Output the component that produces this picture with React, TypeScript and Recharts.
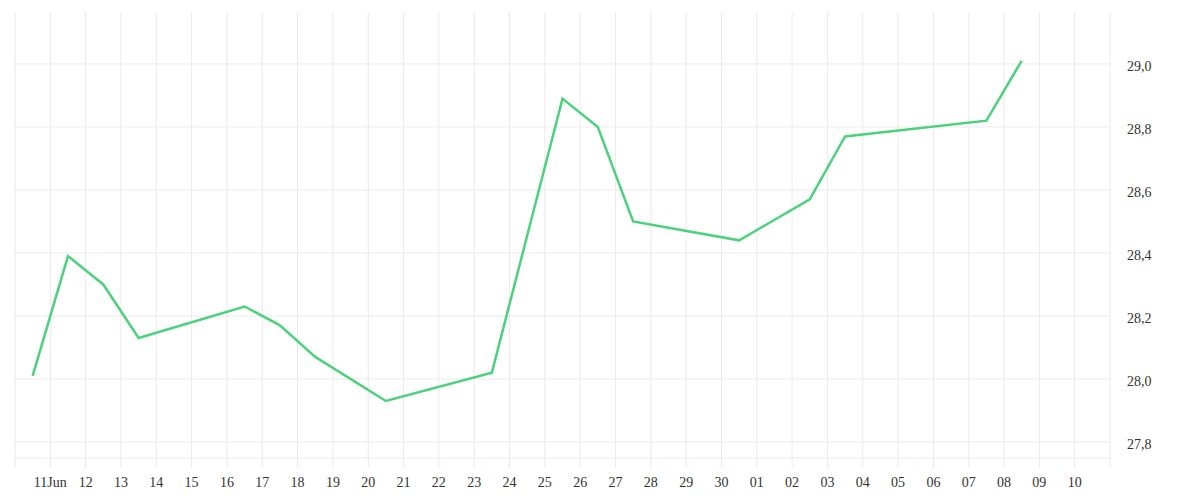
import { CartesianGrid, Line, LineChart, XAxis, YAxis } from 'recharts';

// Trading days and closing values.
const DATES = [
  '2024-06-10', '2024-06-11', '2024-06-12', '2024-06-13', '2024-06-16',
  '2024-06-17', '2024-06-18', '2024-06-20', '2024-06-23', '2024-06-25',
  '2024-06-26', '2024-06-27', '2024-06-30', '2024-07-02', '2024-07-03',
  '2024-07-07', '2024-07-08',
];
const VALUES = [
  28.01, 28.39, 28.3, 28.13, 28.23,
  28.17, 28.07, 27.93, 28.02, 28.89,
  28.8, 28.5, 28.44, 28.57, 28.77,
  28.82, 29.01,
];

// One tick per day from Jun 10 to Jul 11; first and last are left blank.
const X_LABELS = [
  '', '11Jun', '12', '13', '14', '15', '16', '17', '18', '19', '20',
  '21', '22', '23', '24', '25', '26', '27', '28', '29', '30',
  '01', '02', '03', '04', '05', '06', '07', '08', '09', '10', '',
];
const Y_TICKS = [27.8, 28.0, 28.2, 28.4, 28.6, 28.8, 29.0];

const START = Date.UTC(2024, 5, 10);
const DAY = 24 * 3600 * 1000;

const data = DATES.map((d, i) => {
  const [y, m, dd] = d.split('-').map(Number);
  // points sit at midday, halfway between the day gridlines
  return { x: (Date.UTC(y, m - 1, dd) - START) / DAY + 0.5, value: VALUES[i] };
});

const xTicks = X_LABELS.map((_, i) => i);
const font = { fontSize: 14, fill: '#333', fontFamily: '"Liberation Serif", serif' };

export default function App() {
  return (
    <div style={{ position: 'absolute', left: 0, top: 0, background: '#fff' }}>
      <LineChart
        width={1200}
        height={500}
        data={data}
        margin={{ top: 12, right: 30, bottom: 0, left: 15 }}
      >
        <CartesianGrid
          stroke="#ebebeb"
          horizontalValues={Y_TICKS}
          verticalValues={xTicks}
        />
        <XAxis
          dataKey="x"
          type="number"
          domain={[0, X_LABELS.length - 1]}
          ticks={xTicks}
          interval={0}
          tickFormatter={(v: number) => X_LABELS[v] ?? ''}
          height={42}
          tickSize={10}
          tickMargin={9}
          axisLine={{ stroke: '#ebebeb' }}
          tickLine={{ stroke: '#ebebeb' }}
          tick={font}
        />
        <YAxis
          orientation="right"
          type="number"
          domain={[27.749, 29.165]}
          ticks={Y_TICKS}
          allowDataOverflow
          width={60}
          axisLine={false}
          tickLine={false}
          tickSize={6}
          tickMargin={11}
          tickFormatter={(v: number) => v.toFixed(1).replace('.', ',')}
          tick={{ ...font, dy: 2 }}
        />
        <Line
          type="linear"
          dataKey="value"
          stroke="#4cd27c"
          strokeWidth={2.5}
          dot={false}
          isAnimationActive={false}
        />
      </LineChart>
    </div>
  );
}
